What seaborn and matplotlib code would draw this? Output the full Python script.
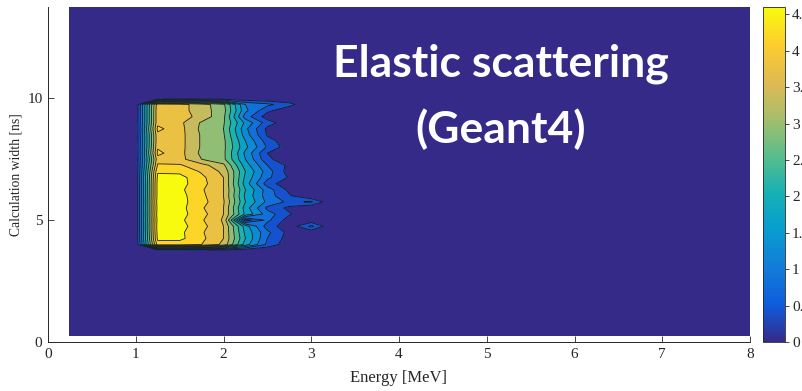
import numpy as np
import matplotlib
matplotlib.use("Agg")
import matplotlib.pyplot as plt
import seaborn as sns
from matplotlib.ticker import FuncFormatter

# --- Grid of the map (MeV x ns) ---
energia = np.arange(0.25, 8.01, 0.25)
ancho = np.arange(0.25, 13.76, 0.25)

# --- Non-zero part of the map (rest is 0) ---
bloque_energia = [1.0, 1.25, 1.5, 1.75, 2.0, 2.25, 2.5, 2.75, 3.0, 3.25]
bloque_ancho = [10.0, 9.75, 9.5, 9.25, 9.0, 8.75, 8.5, 8.25, 8.0, 7.75, 7.5, 7.25, 7.0,
                6.75, 6.5, 6.25, 6.0, 5.75, 5.5, 5.25, 5.0, 4.75, 4.5, 4.25, 4.0, 3.75]
bloque = [
    [0, 0.00, 0.00, 0.00, 0.00, 0.0, 0.00, 0.00, 0.00, 0],
    [0, 3.85, 3.75, 3.40, 2.90, 1.2, 0.90, 0.55, 0.00, 0],
    [0, 3.90, 3.75, 3.40, 2.95, 1.3, 0.50, 0.10, 0.00, 0],
    [0, 3.90, 3.80, 3.45, 2.90, 1.0, 0.20, 0.00, 0.00, 0],
    [0, 3.90, 3.70, 3.15, 2.85, 1.5, 0.60, 0.10, 0.00, 0],
    [0, 4.10, 3.75, 3.10, 2.80, 1.3, 0.30, 0.00, 0.00, 0],
    [0, 3.90, 3.75, 3.15, 2.85, 1.4, 0.35, 0.00, 0.00, 0],
    [0, 3.90, 3.75, 3.15, 2.90, 1.6, 0.60, 0.10, 0.00, 0],
    [0, 3.95, 3.75, 3.15, 2.90, 1.7, 0.75, 0.15, 0.00, 0],
    [0, 4.10, 3.75, 3.10, 2.90, 1.5, 0.40, 0.05, 0.00, 0],
    [0, 3.85, 3.75, 3.20, 2.90, 1.6, 0.50, 0.10, 0.00, 0],
    [0, 4.05, 4.05, 3.75, 3.30, 1.8, 0.80, 0.30, 0.00, 0],
    [0, 4.35, 4.30, 3.95, 3.50, 2.0, 1.00, 0.20, 0.00, 0],
    [0, 4.50, 4.55, 4.10, 3.60, 1.9, 0.90, 0.35, 0.00, 0],
    [0, 4.55, 4.55, 4.15, 3.60, 1.8, 0.60, 0.10, 0.00, 0],
    [0, 4.55, 4.50, 4.05, 3.60, 2.0, 1.00, 0.30, 0.00, 0],
    [0, 4.55, 4.55, 4.10, 3.60, 1.9, 1.00, 0.45, 0.00, 0],
    [0, 4.60, 4.55, 4.15, 3.65, 2.0, 1.10, 0.70, 0.85, 0],
    [0, 4.55, 4.55, 4.05, 3.60, 1.8, 0.70, 0.30, 0.00, 0],
    [0, 4.60, 4.55, 4.15, 3.60, 1.9, 1.00, 0.45, 0.00, 0],
    [0, 4.55, 4.50, 4.05, 3.55, 0.2, 0.90, 0.20, 0.10, 0],
    [0, 4.60, 4.55, 4.15, 3.60, 1.8, 0.60, 0.15, 0.90, 0],
    [0, 4.55, 4.50, 4.05, 3.60, 1.9, 0.90, 0.25, 0.10, 0],
    [0, 4.50, 4.50, 4.10, 3.60, 2.0, 0.80, 0.20, 0.00, 0],
    [0, 4.20, 4.20, 4.00, 3.50, 1.8, 0.70, 0.10, 0.00, 0],
    [0, 0.00, 0.00, 0.00, 0.00, 0.0, 0.00, 0.00, 0.00, 0],
]

Z = np.zeros((len(ancho), len(energia)))
filas = [int(np.argmin(abs(ancho - a))) for a in bloque_ancho]
cols = [int(np.argmin(abs(energia - e))) for e in bloque_energia]
Z[np.ix_(filas, cols)] = np.array(bloque)

# --- Parula-like colormap ---
parula = sns.blend_palette([
    (0.2081, 0.1663, 0.5292), (0.0591, 0.3598, 0.8683), (0.0723, 0.4887, 0.8467),
    (0.0265, 0.6137, 0.8135), (0.0843, 0.6928, 0.7062), (0.3482, 0.7424, 0.5473),
    (0.6473, 0.7456, 0.4188), (0.8824, 0.7274, 0.3217), (0.9880, 0.8066, 0.1794),
    (0.9763, 0.9831, 0.0538)], n_colors=256, as_cmap=True)

sns.set_theme(style="white")
plt.rcParams['font.family'] = ['Liberation Serif', 'DejaVu Serif']
gris = '#262626'

fig = plt.figure(figsize=(8.03, 3.91), dpi=100)
ax = fig.add_axes([48 / 803, 49 / 391, 702 / 803, 335 / 391])

niveles = np.arange(0, 4.81, 0.4)
ax.contourf(energia, ancho, Z, levels=niveles, cmap=parula, vmin=0.2, vmax=4.6)
ax.contour(energia, ancho, Z, levels=niveles[1:-1], colors='k', linewidths=0.6)

ax.set_xlim(0, 8)
ax.set_ylim(0, 13.75)
ax.set_xticks(range(0, 9))
ax.set_yticks([0, 5, 10])
for lado in ['top', 'right']:
    ax.spines[lado].set_visible(False)
for lado in ['left', 'bottom']:
    ax.spines[lado].set_color(gris)
    ax.spines[lado].set_linewidth(0.7)
ax.tick_params(bottom=True, left=True, direction='in', length=4, width=0.6,
               colors=gris, labelsize=11, pad=4)
ax.set_xlabel("Energy [MeV]", fontsize=12, color=gris)
ax.set_ylabel("Calculation width [ns]", fontsize=9.8, color=gris)
ax.xaxis.set_label_coords(0.5, -0.085)
ax.yaxis.set_label_coords(-0.036, 0.5)

# --- Colorbar ---
cax = fig.add_axes([763 / 803, 49 / 391, 22 / 803, 335 / 391])
sm = plt.cm.ScalarMappable(norm=plt.Normalize(0, 4.6), cmap=parula)
cb = fig.colorbar(sm, cax=cax, ticks=np.arange(0, 4.51, 0.5),
                  format=FuncFormatter(lambda v, p: f"{v:g}"))
cb.outline.set_edgecolor(gris)
cb.outline.set_linewidth(0.6)
cax.tick_params(right=True, direction='out', length=3, width=0.6, colors=gris,
                labelsize=11, pad=2)

# --- Overlay title ---
fig.text(501 / 803, 1 - 77 / 391, "Elastic scattering", ha='center', va='baseline',
         color='white', fontweight='bold', family='Lato', fontsize=32)
fig.text(501 / 803, 1 - 143 / 391, "(Geant4)", ha='center', va='baseline',
         color='white', fontweight='bold', family='Lato', fontsize=32)

plt.savefig("out.png", dpi=100)
